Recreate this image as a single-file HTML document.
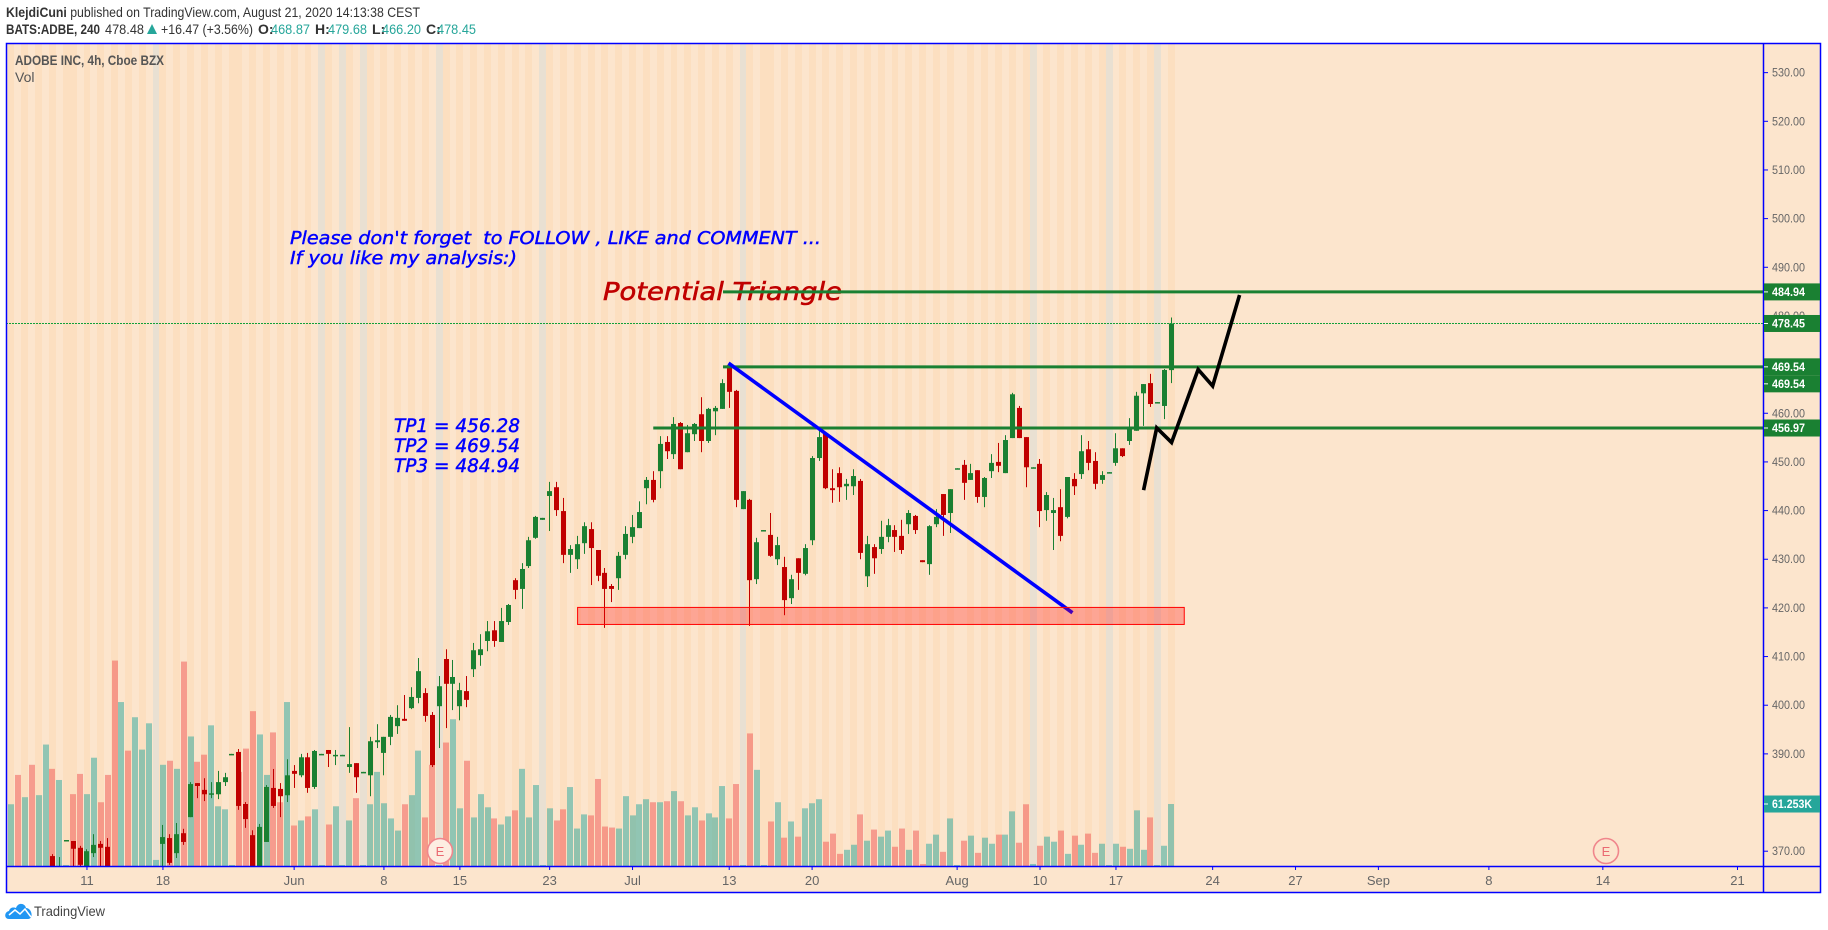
<!DOCTYPE html>
<html lang="en">
<head>
<meta charset="utf-8">
<title>ADOBE INC, 4h chart</title>
<style>
html,body{margin:0;padding:0;background:#fff;width:1828px;height:930px;overflow:hidden}
svg{display:block;font-family:"Liberation Sans",sans-serif}
.ann{font-family:"DejaVu Sans","Liberation Sans",sans-serif;font-style:italic}
</style>
</head>
<body>
<svg id="chart" xmlns="http://www.w3.org/2000/svg" width="1828" height="930" viewBox="0 0 1828 930">
  <defs><clipPath id="pane"><rect x="6" y="43" width="1757" height="823"/></clipPath></defs>
  <rect x="0" y="0" width="1828" height="930" fill="#ffffff"/>
  <text x="6" y="17" font-size="14" fill="#333" textLength="414" lengthAdjust="spacingAndGlyphs"><tspan font-weight="bold">KlejdiCuni</tspan> published on TradingView.com, August 21, 2020 14:13:38 CEST</text>
  <g font-size="14">
    <text x="6" y="34" font-weight="bold" fill="#333" textLength="94" lengthAdjust="spacingAndGlyphs">BATS:ADBE, 240</text>
    <text x="105" y="34" fill="#333" textLength="39" lengthAdjust="spacingAndGlyphs">478.48</text>
    <polygon points="147,34 152,24 157,34" fill="#26a69a"/>
    <text x="161" y="34" fill="#333" textLength="92" lengthAdjust="spacingAndGlyphs">+16.47 (+3.56%)</text>
    <text x="258" y="34" font-weight="bold" fill="#333">O:</text>
    <text x="271" y="34" fill="#26a69a" textLength="39" lengthAdjust="spacingAndGlyphs">468.87</text>
    <text x="315" y="34" font-weight="bold" fill="#333">H:</text>
    <text x="328" y="34" fill="#26a69a" textLength="39" lengthAdjust="spacingAndGlyphs">479.68</text>
    <text x="372" y="34" font-weight="bold" fill="#333">L:</text>
    <text x="382" y="34" fill="#26a69a" textLength="39" lengthAdjust="spacingAndGlyphs">466.20</text>
    <text x="426" y="34" font-weight="bold" fill="#333">C:</text>
    <text x="437" y="34" fill="#26a69a" textLength="39" lengthAdjust="spacingAndGlyphs">478.45</text>
  </g>
  <rect x="6" y="43" width="1815" height="850" fill="#fce5cd"/>
  <g id="stripes"></g>
  <g id="vols" clip-path="url(#pane)"></g>
  <g id="candles" clip-path="url(#pane)"></g>
  <text class="ann" x="603" y="300" font-size="25" fill="#c00000" stroke="#c00000" stroke-width="0.6" textLength="239" lengthAdjust="spacingAndGlyphs">Potential Triangle</text>
  <g id="levels"></g>
  <g id="drawings"></g>
  <g fill="#0000ff" stroke="#0000ff" stroke-width="0.45" class="ann">
    <text x="290" y="244" font-size="18" textLength="531" lengthAdjust="spacingAndGlyphs" xml:space="preserve">Please don't forget  to FOLLOW , LIKE and COMMENT ...</text>
    <text x="290" y="264" font-size="18" textLength="227" lengthAdjust="spacingAndGlyphs">If you like my analysis:)</text>
    <text x="394" y="432" font-size="19" textLength="126" lengthAdjust="spacingAndGlyphs">TP1 = 456.28</text>
    <text x="394" y="452" font-size="19" textLength="126" lengthAdjust="spacingAndGlyphs">TP2 = 469.54</text>
    <text x="394" y="472" font-size="19" textLength="126" lengthAdjust="spacingAndGlyphs">TP3 = 484.94</text>
  </g>
  <g>
    <circle cx="440" cy="851" r="12.5" fill="#fdeee2" stroke="#f0868c" stroke-width="1.6"/>
    <text x="440" y="856" font-size="13" fill="#ea6a72" text-anchor="middle">E</text>
  </g>
  <g>
    <circle cx="1606" cy="851" r="12.5" fill="#fce5cd" stroke="#f0868c" stroke-width="1.6"/>
    <text x="1606" y="856" font-size="13" fill="#ea6a72" text-anchor="middle">E</text>
  </g>
  <g stroke="#0000ff" stroke-width="1.5" fill="none">
    <rect x="6.5" y="43.5" width="1814" height="849"/>
    <line x1="6" y1="866.5" x2="1821" y2="866.5"/>
    <line x1="1763.5" y1="43" x2="1763.5" y2="893"/>
  </g>
  <g id="priceAxis"></g>
  <g id="timeAxis"></g>
  <g id="priceTags"></g>
  <text x="15" y="65" font-size="14" font-weight="bold" fill="#555" textLength="149" lengthAdjust="spacingAndGlyphs">ADOBE INC, 4h, Cboe BZX</text>
  <text x="15" y="82" font-size="14" fill="#555">Vol</text>
  <g>
    <path d="M9 919 C4 919 4 912 9 911 C10 907 14 907 16 908 C18 902 25 903 26 908 C32 908 34 919 28 919 Z" fill="#2196f3"/>
    <path d="M9 915 L15 910 L20 914 L25 909 L31 917" fill="none" stroke="#fff" stroke-width="1.5"/>
    <text x="34" y="916" font-size="14" fill="#444" textLength="71" lengthAdjust="spacingAndGlyphs">TradingView</text>
  </g>
</svg>
<script>
const opens = [360,362,358,361,358,360,369.0,365.1,372.1,372.1,370.7,366.5,369.6,371.5,370.9,
365,361,363,360,361,361,363,
371.5,372.7,369.6,373.7,377.0,384.0,382.6,381.7,381.7,384.2,389.8,390.4,379.7,373.3,365.5,371.9,383.0,382.8,381.5,386.5,385.6,389.3,383.2,389.8,
390.8,389.6,389.6,387.3,388.1,386.1,385.6,392.4,390.2,393.5,395.7,397.2,399.4,401.5,402.5,398.0,399.8,409.5,404.4,399.8,402.9,407.4,410.3,413.2,415.4,413.0,417.1,425.7,423.9,428.6,434.4,438.1,
443.0,444.8,439.9,430.9,430.0,433.3,436.2,431.9,427.2,424.5,426.1,430.9,434.6,436.4,444.6,446.3,448.1,454.1,451.6,458.0,452.0,455.7,459.8,454.3,460.4,460.9,469.9,464.6,440.3,442.2,425.9,435.8,435.0,430.0,428.4,422.0,430.2,427.0,433.9,450.8,455.9,444.6,447.7,445.0,445.0,446.1,426.5,432.5,432.1,434.6,436.0,434.8,437.2,438.9,429.8,429.0,437.2,443.4,439.5,448.5,449.4,446.3,448.3,442.8,448.1,450.0,447.7,454.9,461.1,455.1,448.7,449.6,440.1,439.5,440.7,438.7,446.5,447.5,452.6,450.2,446.3,447.7,449.8,452.8,454.3,456.4,464.1,466.2,462.1,461.5,468.87];
const highs = [363,363,362,362,361,364,369.4,368.8,372.3,372.1,371.1,370.4,373.5,372.1,372.7,
365.5,364,364,364,364,364,364,
375.4,373.5,375.8,374.6,384.2,384.0,385.0,384.2,386.5,386.1,390.0,391.0,380.1,374.3,375.6,383.6,386.9,384.0,388.9,387.7,390.0,390.2,390.8,390.0,
390.8,390.8,389.8,395.5,388.1,386.3,393.5,396.1,393.5,398.0,400.0,402.1,403.7,409.7,403.5,398.6,406.0,411.5,409.3,404.6,406.0,412.8,414.6,417.3,417.3,420.0,420.8,426.1,429.2,434.6,438.9,438.5,
445.9,445.9,442.6,432.9,434.8,437.6,437.6,431.9,428.2,424.9,431.5,436.8,439.1,441.9,446.9,448.1,455.3,455.3,459.2,458.2,457.6,458.0,463.3,461.1,461.5,467.0,470.3,464.8,444.0,442.4,434.4,436.0,439.5,434.6,430.5,426.8,430.2,433.1,451.2,456.6,456.1,448.5,448.9,446.5,448.5,446.5,434.8,433.1,437.9,438.3,437.0,438.1,440.1,439.1,429.8,437.0,440.3,443.4,444.4,448.7,450.4,449.6,448.3,446.9,451.6,453.9,455.5,464.2,461.5,455.1,448.9,450.6,443.8,442.6,444.4,446.9,447.7,455.5,454.3,452.0,448.1,447.9,455.9,452.8,459.0,464.4,466.0,468.1,462.3,469.1,479.68];
const lows = [358,357,357,357,356,359,365.5,364.1,372.1,366.5,366.8,366.1,368.8,366.8,366.5,
360,360,359,359,360,360,362,
366.8,367.2,368.6,371.3,377.0,380.9,380.3,380.9,380.7,383.4,389.8,378.5,374.8,364.7,364.7,371.9,378.9,377.0,380.1,383.0,385.2,382.0,382.8,389.8,
387.3,387.7,389.6,386.1,382.0,386.1,381.3,391.2,385.6,391.8,394.1,396.8,399.2,400.4,396.6,387.3,391.2,395.3,399.0,396.9,399.6,405.8,408.1,411.1,412.0,413.0,416.5,421.8,419.8,428.2,434.2,438.1,
435.8,438.9,429.2,427.2,428.0,431.1,424.7,425.5,415.9,421.2,423.7,430.0,433.3,436.4,441.3,441.7,444.6,450.6,450.6,448.5,452.0,454.3,452.0,453.9,455.5,460.9,461.1,440.7,440.3,416.3,424.9,435.8,430.5,428.8,418.5,420.8,423.7,426.7,432.9,450.2,444.4,441.6,441.8,442.2,443.2,430.0,424.3,427.0,431.1,433.5,431.5,431.1,435.2,435.2,429.4,426.8,436.6,434.8,435.4,448.5,442.2,446.3,441.6,440.7,446.7,447.9,447.7,454.9,454.9,444.8,448.7,436.6,437.9,431.9,433.7,438.4,443.2,446.5,448.3,444.4,445.5,447.7,449.2,451.0,453.5,456.4,457.4,461.3,462.1,458.8,466.20];
const closes = [362,358,361,358,360,363,366.1,365.5,372.3,370.5,367.2,370.0,371.3,370.7,366.8,
361,363,360,363,362.5,363,363.5,
372.9,367.6,373.5,371.9,383.8,383.4,381.7,381.9,384.2,385.2,390.0,379.3,376.6,365.5,375.0,383.2,379.3,381.3,385.6,385.9,389.3,383.0,390.6,390.0,
390.0,389.8,389.8,387.9,385.2,386.3,392.6,392.8,393.5,397.6,397.4,396.8,401.7,407.0,397.8,387.7,403.9,404.4,405.8,403.1,401.1,411.3,411.5,415.2,413.2,417.3,420.6,423.7,428.0,433.9,438.7,438.5,
444.0,440.1,430.9,432.1,433.1,436.8,432.3,426.6,423.9,423.9,430.7,435.2,436.6,439.7,446.3,442.2,453.7,452.2,457.8,448.5,455.9,457.8,454.3,460.9,461.1,466.2,464.4,442.2,444.0,425.7,433.5,436.0,430.7,432.9,421.6,425.9,427.2,432.3,450.8,455.1,444.6,444.2,444.8,445.5,447.1,431.3,433.1,430.2,434.6,437.0,434.6,431.9,439.5,436.0,429.4,436.8,438.7,439.1,444.4,448.7,445.7,447.7,442.8,446.7,449.8,449.2,454.5,463.9,454.9,448.9,448.9,439.9,443.2,440.1,434.8,446.9,445.0,452.2,449.8,445.5,447.3,447.9,452.8,451.2,456.8,463.6,466.0,461.9,462.3,468.9,478.45];
const volumesK = [61,90,68,100,70,120,96,85,1,71,91,71,107,63,90,203,162,114,147,115,141,6,100,104,96,202,128,103,110,139,59,56,1,93,116,153,130,90,132,63,162,40,45,49,56,1,
41,59,1,45,67,1,61,93,62,47,35,61,70,114,48,100,1,122,145,57,104,48,71,58,47,41,49,55,96,48,80,1,57,45,56,78,37,51,50,86,39,38,37,
69,50,61,66,63,63,64,74,64,50,58,45,52,48,79,47,81,1,131,95,1,44,63,28,44,29,57,62,66,24,32,12,16,21,51,25,36,29,35,19,37,16,35,2,22,31,14,47,1,25,30,13,28,22,31,31,54,23,61,2,20,29,24,35,12,30,21,32,13,22,1,22,19,17,55,16,48,1,20,61.253];
const priceTicks = [370,380,390,400,410,420,430,440,450,460,470,480,490,500,510,520,530];
const timeLabels = ["11","18","Jun","8","15","23","Jul","13","20","Aug","10","17","24","27","Sep","8","14","21"];
const timeLabelBars = [11,22,41,54,65,78,90,104,116,137,149,160,174,186,198,214,230.5,250];
const levelPrices = [484.94,469.54,456.97];
const levelStartBars = [103.1,103.1,93];
const trendBars = [103.9,153.7];
const trendPrices = [470.3,419.0];
const zigzagBars = [164,165.9,168.05,171.9,174,177.9];
const zigzagPrices = [444.2,457.0,454.0,469.0,465.6,484.3];
const zoneBars = [82,169.7];
const zonePrices = [420.1,416.6];
const grayBars = [21,45,48,51,62,77,106,148,159,166];
const flipBars = [8,21,32,45,48,51,62,77,106,109,137,148,159,166];
const lastPrice = 478.45;
const tagPrices = [484.94,478.45,469.54,469.54,456.97];
const tagYOffsets = [0,0,0,17,0];
const lastVolumeLabel = "61.253K";

const NS = "http://www.w3.org/2000/svg";
const xAt = i => 11 + i * 6.906;
const yAt = p => 851.2 - (p - 370) * 4.866;
const yVol = v => 866 - v * 1.012;
function make(tag, parent, attrs, text) {
  const n = document.createElementNS(NS, tag);
  for (const k in attrs) n.setAttribute(k, attrs[k]);
  if (text !== undefined) n.textContent = text;
  document.getElementById(parent).appendChild(n);
  return n;
}
const UP = "#1a8032", DOWN = "#c00000";

// session stripes
let dark = true;
for (let i = 0; i < opens.length; i++) {
  const gray = grayBars.includes(i);
  const x0 = Math.round(xAt(i) - 3.45), x1 = Math.round(xAt(i + 1) - 3.45);
  const s = make("rect", "stripes", {x: x0, y: 44, width: x1 - x0, height: 822,
    fill: gray ? "#e9e0d2" : (dark ? "#fcdfc0" : "#fce5cd")});
  
  
  if (!flipBars.includes(i)) dark = !dark;
}

// volume bars
volumesK.forEach((v, i) => {
  const up = closes[i] >= opens[i];
  const y = yVol(v);
  const b = make("rect", "vols", {x: Math.round(xAt(i) - 3), y: y, width: 6, height: 866 - y,
    fill: up ? "#26a69a" : "#ef5350", "fill-opacity": .5});
  
  
});

// candles
opens.forEach((o, i) => {
  const c = closes[i], up = c >= o, col = up ? UP : DOWN;
  const left = Math.round(xAt(i) - 2.5);
  const wick = make("rect", "candles", {x: left + 2, y: yAt(highs[i]), width: 1,
    height: Math.max(0, yAt(lows[i]) - yAt(highs[i])), fill: col});
  
  
  const top = yAt(Math.max(o, c));
  const body = make("rect", "candles", {x: left, y: top, width: 5,
    height: Math.max(1.5, yAt(Math.min(o, c)) - top), fill: col});
  
  
});

// last price dotted line
const lastY = Math.floor(yAt(lastPrice)) + .5;
const dotted = make("line", "levels", {x1: 6, x2: 1763, y1: lastY, y2: lastY,
  stroke: "#12a03a", "stroke-width": 1, "stroke-dasharray": "2 1"});



// levels
levelPrices.forEach((p, i) => {
  const l = make("line", "levels", {x1: xAt(levelStartBars[i]), x2: 1763, y1: yAt(p), y2: yAt(p),
    stroke: UP, "stroke-width": 3});
  
  
});

// drawings
const trend = make("line", "drawings", {x1: xAt(trendBars[0]), y1: yAt(trendPrices[0]),
  x2: xAt(trendBars[1]), y2: yAt(trendPrices[1]), stroke: "#0000ff", "stroke-width": 3.6});


const zig = make("polyline", "drawings", {points: zigzagBars.map((b, i) => xAt(b) + "," + yAt(zigzagPrices[i])).join(" "),
  fill: "none", stroke: "#000", "stroke-width": 3.6, "stroke-linejoin": "miter"});


const zone = make("rect", "drawings", {x: xAt(zoneBars[0]) + .3, y: yAt(zonePrices[0]),
  width: xAt(zoneBars[1]) - xAt(zoneBars[0]) + 1, height: yAt(zonePrices[1]) - yAt(zonePrices[0]),
  fill: "#ff0000", "fill-opacity": .28, stroke: "#ff0000", "stroke-width": 1});



// price axis
priceTicks.forEach(p => {
  const y = yAt(p);
  const t = make("line", "priceAxis", {x1: 1763, x2: 1768, y1: y, y2: y, stroke: "#0000ff", "stroke-width": 1});
  
  
  const l = make("text", "priceAxis", {x: 1772, y: y + 4, "font-size": 12, fill: "#666",
    textLength: 33, lengthAdjust: "spacingAndGlyphs"}, p.toFixed(2));
  
  
});

// time axis
timeLabels.forEach((txt, i) => {
  const x = xAt(timeLabelBars[i]);
  const t = make("line", "timeAxis", {x1: x, x2: x, y1: 866, y2: 870, stroke: "#0000ff", "stroke-width": 1});
  
  
  const l = make("text", "timeAxis", {x: x, y: 885, "font-size": 13, fill: "#666", "text-anchor": "middle"}, txt);
  
  
});

// price tags
tagPrices.forEach((p, i) => {
  const cy = yAt(p) + tagYOffsets[i];
  const r = make("rect", "priceTags", {x: 1764, y: cy - 8.5, width: 56, height: 17, fill: UP});
  
  
  const tick = make("line", "priceTags", {x1: 1764, x2: 1768, y1: cy, y2: cy, stroke: "#fff", "stroke-width": 1});
  
  
  const t = make("text", "priceTags", {x: 1772, y: cy + 4, "font-size": 12, "font-weight": "bold", fill: "#fff",
    textLength: 33, lengthAdjust: "spacingAndGlyphs"}, p.toFixed(2));
  
  
});
const vy = yVol(volumesK[volumesK.length - 1]);
const vr = make("rect", "priceTags", {x: 1764, y: vy - 8.5, width: 56, height: 17, fill: "#26a69a"});


const vtick = make("line", "priceTags", {x1: 1764, x2: 1768, y1: vy, y2: vy, stroke: "#fff", "stroke-width": 1});


const vt = make("text", "priceTags", {x: 1772, y: vy + 4, "font-size": 12, "font-weight": "bold", fill: "#fff",
  textLength: 40, lengthAdjust: "spacingAndGlyphs"}, lastVolumeLabel);


</script>
</body>
</html>
